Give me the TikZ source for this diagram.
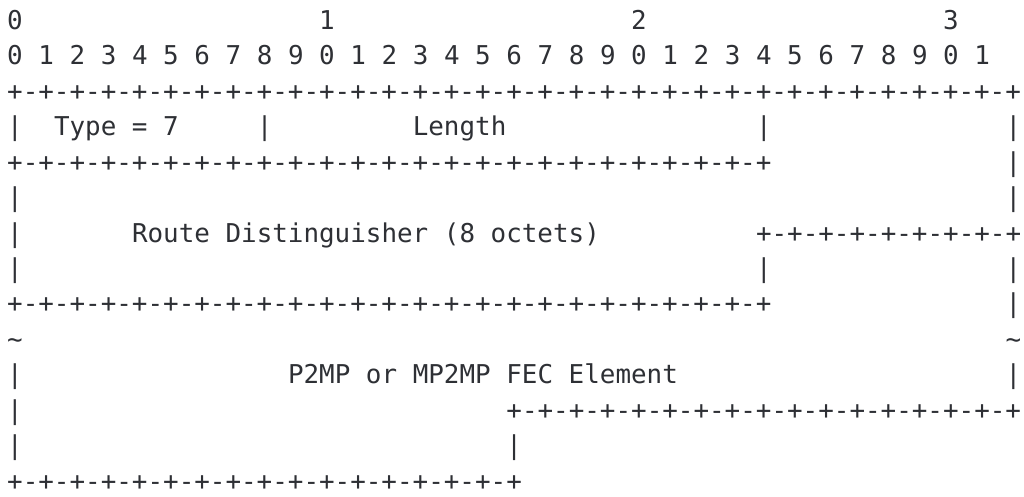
\documentclass[tikz,border=0pt]{standalone}
\usepackage{fontspec}
\newfontfamily\monofont{DejaVu Sans Mono}
\ExplSyntaxOn
\NewDocumentCommand\dashrow{m}{\prg_replicate:nn{#1}{+-}+}
\ExplSyntaxOff
\definecolor{ink}{HTML}{2E3035}
\tikzset{
  txt/.style={anchor=base west, inner sep=0pt, outer sep=0pt, text=ink,
              font=\monofont\fontsize{19.43pt}{24pt}\selectfont}
}
% column / line placement: 1px = 0.75pt
\newcommand\seg[4]{\node[txt] (#1) at ({5.4pt+#2*11.7pt},{-22.05pt-(#3-1)*26.58pt}) {#4};}
\begin{document}
\begin{tikzpicture}
\useasboundingbox (0,0) rectangle (768pt,-372pt);
% line 1
\seg{h0}{0}{1}{0}
\seg{h1}{20}{1}{1}
\seg{h2}{40}{1}{2}
\seg{h3}{60}{1}{3}
% line 2
\foreach \i in {0,...,31}{
  \pgfmathtruncatemacro\d{mod(\i,10)}
  \seg{bit\i}{2*\i}{2}{\d}
}
% line 3
\seg{r3}{0}{3}{\dashrow{32}}
% line 4
\seg{l4a}{0}{4}{|}
\seg{type}{3}{4}{Type = 7}
\seg{l4b}{16}{4}{|}
\seg{len}{26}{4}{Length}
\seg{l4c}{48}{4}{|}
\seg{l4d}{64}{4}{|}
% line 5
\seg{r5}{0}{5}{\dashrow{24}}
\seg{l5d}{64}{5}{|}
% line 6
\seg{l6a}{0}{6}{|}
\seg{l6d}{64}{6}{|}
% line 7
\seg{l7a}{0}{7}{|}
\seg{rd}{8}{7}{Route Distinguisher (8 octets)}
\seg{r7}{48}{7}{\dashrow{8}}
% line 8
\seg{l8a}{0}{8}{|}
\seg{l8c}{48}{8}{|}
\seg{l8d}{64}{8}{|}
% line 9
\seg{r9}{0}{9}{\dashrow{24}}
\seg{l9d}{64}{9}{|}
% line 10
\seg{t10a}{0}{10}{\textasciitilde}
\seg{t10d}{64}{10}{\textasciitilde}
% line 11
\seg{l11a}{0}{11}{|}
\seg{fec}{18}{11}{P2MP or MP2MP FEC Element}
\seg{l11d}{64}{11}{|}
% line 12
\seg{l12a}{0}{12}{|}
\seg{r12}{32}{12}{\dashrow{16}}
% line 13
\seg{l13a}{0}{13}{|}
\seg{l13b}{32}{13}{|}
% line 14
\seg{r14}{0}{14}{\dashrow{16}}
\end{tikzpicture}
\end{document}
